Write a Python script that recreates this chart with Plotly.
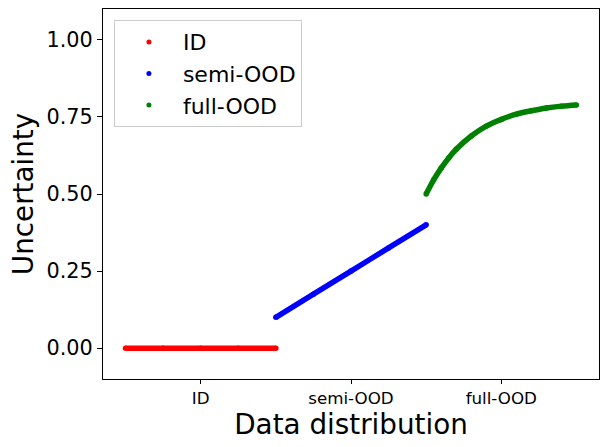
import plotly.graph_objects as go

# values
id_x = [0.0, 0.25, 0.5, 0.75, 1.0]
id_y = [0.0, 0.0, 0.0, 0.0, 0.0]

semi_x = [1.0, 1.25, 1.5, 1.75, 2.0]
semi_y = [0.100, 0.175, 0.250, 0.325, 0.400]

full_x = [2.0, 2.05, 2.1, 2.15, 2.2, 2.3, 2.4, 2.5, 2.6, 2.7, 2.8, 2.9, 3.0]
full_y = [0.500, 0.546, 0.584, 0.617, 0.645, 0.688, 0.720, 0.742, 0.759, 0.770, 0.779, 0.785, 0.789]

tick_pos = [0.5, 1.5, 2.5]
tick_labels = ["ID", "semi-OOD", "full-OOD"]

series = [
    ("ID", id_x, id_y, "#ff0000"),
    ("semi-OOD", semi_x, semi_y, "#0000ff"),
    ("full-OOD", full_x, full_y, "#008000"),
]

fig = go.Figure()

for name, xs, ys, color in series:
    # dense dots in the original -> thick line with round ends
    fig.add_trace(go.Scatter(
        x=xs, y=ys, mode="lines+markers",
        line=dict(color=color, width=5.5, shape="spline"),
        marker=dict(color=color, size=5.5),
        showlegend=False, hoverinfo="skip"
    ))
    # legend entry only (small dot)
    fig.add_trace(go.Scatter(
        x=[None], y=[None], mode="markers", name=name,
        marker=dict(color=color, size=5)
    ))

fig.update_layout(
    width=608, height=447,
    margin=dict(l=103, r=9, t=9, b=68),
    plot_bgcolor="white", paper_bgcolor="white",
    font=dict(family="DejaVu Sans", color="black"),
    legend=dict(
        x=0.022, y=0.97, xanchor="left", yanchor="top",
        bordercolor="#cccccc", borderwidth=1, itemwidth=58,
        font=dict(size=22), bgcolor="rgba(255,255,255,0.8)"
    ),
    xaxis=dict(
        range=[-0.15, 3.15], tickvals=tick_pos, ticktext=tick_labels,
        tickfont=dict(size=16.7), ticks="outside", ticklen=4, tickcolor="black",
        showline=True, linecolor="black", linewidth=1, mirror=True,
        showgrid=False, zeroline=False,
        title=dict(text="Data distribution", font=dict(size=27.8), standoff=1)
    ),
    yaxis=dict(
        range=[-0.1, 1.1], tickvals=[0, 0.25, 0.5, 0.75, 1.0],
        ticktext=["0.00", "0.25", "0.50", "0.75", "1.00"],
        tickfont=dict(size=20.8), ticks="outside", ticklen=5, tickcolor="black",
        showline=True, linecolor="black", linewidth=1, mirror=True,
        showgrid=False, zeroline=False,
        title=dict(text="Uncertainty", font=dict(size=27.8), standoff=4)
    ),
)

# drop the browser's default body margin so the figure sits at the page corner
fig.write_html("out.html", config={"displayModeBar": False},
               post_script="document.body.style.margin='0';")
